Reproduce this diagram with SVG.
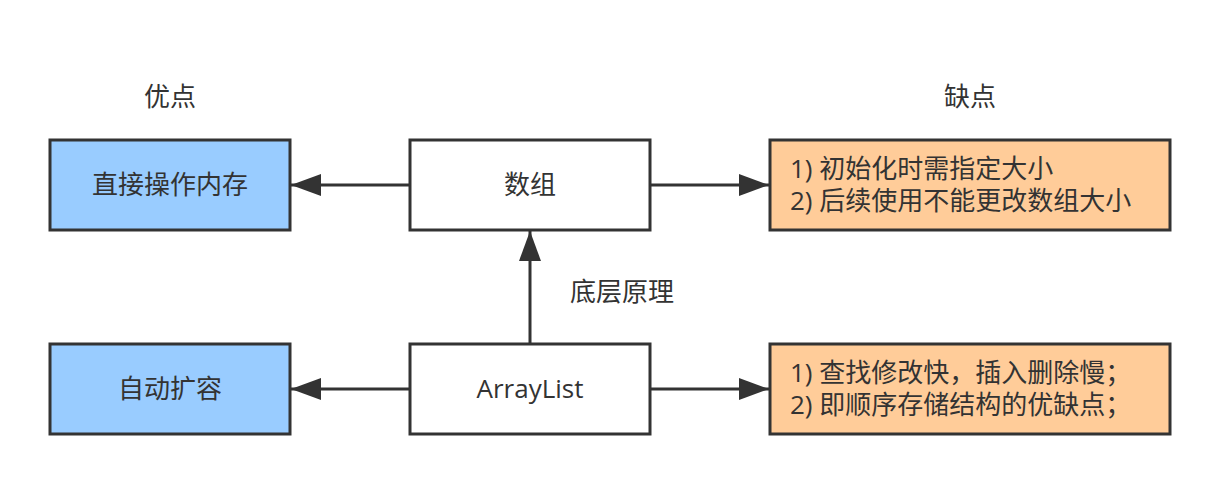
<svg xmlns="http://www.w3.org/2000/svg" width="1220" height="484" viewBox="0 0 1220 484">
<style>
text{font-family:"Open Sans","Noto Sans CJK SC",sans-serif;font-size:26px;fill:#333333}
.c{text-anchor:middle}
.box{stroke:#333333;stroke-width:3}
.blue{fill:#99CCFF}
.white{fill:#FFFFFF}
.orange{fill:#FFCC99}
.edge{stroke:#333333;stroke-width:3;fill:none}
</style>
<defs>
<marker id="ah" markerUnits="userSpaceOnUse" markerWidth="32" markerHeight="24" refX="30" refY="12" orient="auto">
<path d="M0,1 L30,12 L0,23 Z" fill="#333333"/>
</marker>
</defs>
<rect width="1220" height="484" fill="#FFFFFF"/>
<g id="label-pros"><text class="c" x="170" y="106">优点</text></g>
<g id="label-cons"><text class="c" x="970" y="106">缺点</text></g>
<g id="connectors">
<line class="edge" x1="410" y1="185" x2="291" y2="185" marker-end="url(#ah)"/>
<line class="edge" x1="650" y1="185" x2="769" y2="185" marker-end="url(#ah)"/>
<line class="edge" x1="530" y1="344" x2="530" y2="231" marker-end="url(#ah)"/>
<line class="edge" x1="410" y1="389" x2="291" y2="389" marker-end="url(#ah)"/>
<line class="edge" x1="650" y1="389" x2="769" y2="389" marker-end="url(#ah)"/>
<text x="570" y="301">底层原理</text>
</g>
<g id="node-memory"><rect class="box blue" x="50" y="140" width="240" height="90"/><text class="c" x="170" y="194">直接操作内存</text></g>
<g id="node-array"><rect class="box white" x="410" y="140" width="240" height="90"/><text class="c" x="530" y="194">数组</text></g>
<g id="node-array-cons"><rect class="box orange" x="770" y="140" width="400" height="90"/><text x="790" y="178">1) 初始化时需指定大小</text><text x="790" y="210">2) 后续使用不能更改数组大小</text></g>
<g id="node-resize"><rect class="box blue" x="50" y="344" width="240" height="90"/><text class="c" x="170" y="398">自动扩容</text></g>
<g id="node-arraylist"><rect class="box white" x="410" y="344" width="240" height="90"/><text class="c" x="530" y="398">ArrayList</text></g>
<g id="node-arraylist-cons"><rect class="box orange" x="770" y="344" width="400" height="90"/><text x="790" y="382">1) 查找修改快，插入删除慢；</text><text x="790" y="414">2) 即顺序存储结构的优缺点；</text></g>
</svg>
